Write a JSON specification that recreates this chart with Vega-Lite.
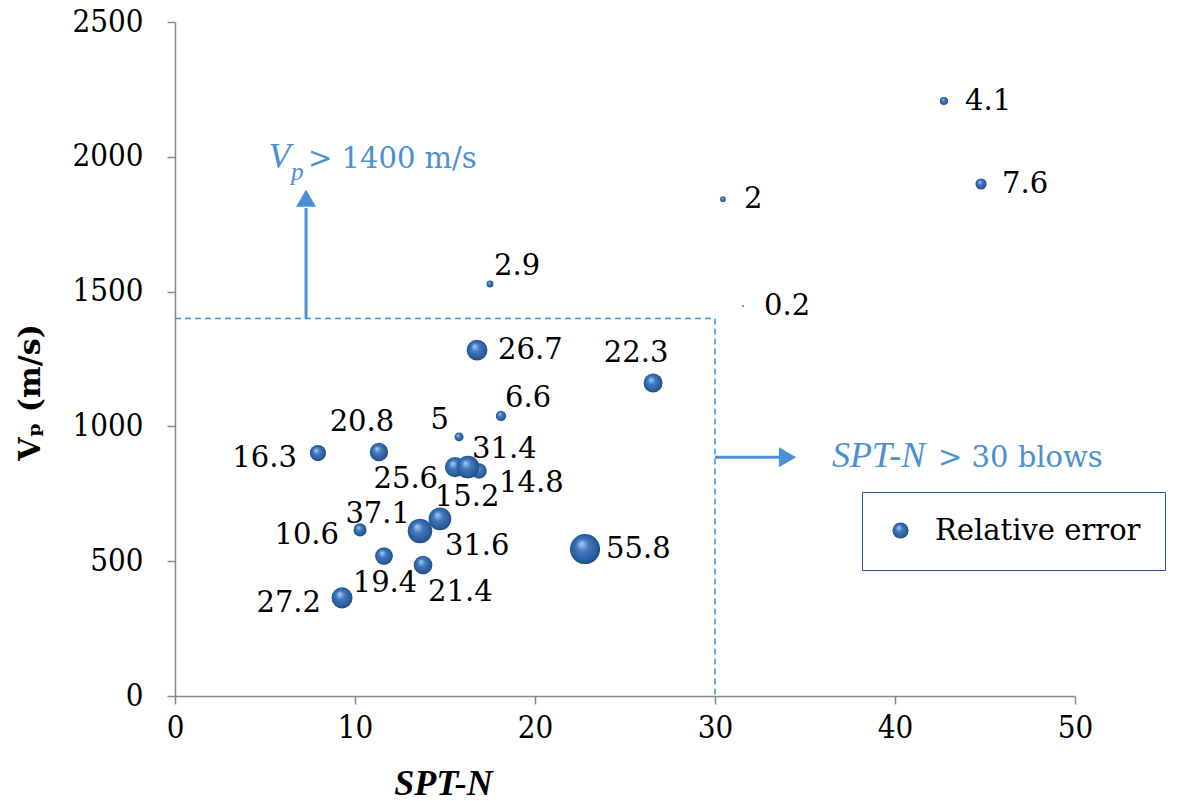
{
  "$schema": "https://vega.github.io/schema/vega-lite/v6.json",
  "width": 900,
  "height": 674,
  "autosize": {"type": "none"},
  "padding": {"left": 175, "top": 22, "right": 103, "bottom": 105},
  "background": "white",
  "datasets": {
    "bubbles": [
      {"x": 16.17, "y": 838, "err": 15.2, "pos": "below"},
      {"x": 16.89, "y": 835, "err": 14.8, "pos": "rightlow"},
      {"x": 15.56, "y": 849, "err": 25.6, "pos": "belowleft"},
      {"x": 16.28, "y": 849, "err": 31.4, "pos": "aboveright"},
      {"x": 13.61, "y": 612, "err": 37.1, "pos": "upleft"},
      {"x": 14.72, "y": 657, "err": 31.6, "pos": "belowright"},
      {"x": 42.72, "y": 2207, "err": 4.1, "pos": "right"},
      {"x": 44.78, "y": 1899, "err": 7.6, "pos": "right"},
      {"x": 30.44, "y": 1843, "err": 2, "pos": "right"},
      {"x": 31.56, "y": 1447, "err": 0.2, "pos": "right"},
      {"x": 17.5, "y": 1528, "err": 2.9, "pos": "aboveright"},
      {"x": 16.78, "y": 1283, "err": 26.7, "pos": "right"},
      {"x": 26.56, "y": 1161, "err": 22.3, "pos": "above"},
      {"x": 18.11, "y": 1039, "err": 6.6, "pos": "aboveright"},
      {"x": 15.78, "y": 961, "err": 5, "pos": "upleft"},
      {"x": 11.33, "y": 905, "err": 20.8, "pos": "above"},
      {"x": 7.94, "y": 901, "err": 16.3, "pos": "left"},
      {"x": 10.28, "y": 616, "err": 10.6, "pos": "left"},
      {"x": 11.61, "y": 519, "err": 19.4, "pos": "below"},
      {"x": 13.78, "y": 486, "err": 21.4, "pos": "belowright"},
      {"x": 9.28, "y": 364, "err": 27.2, "pos": "left"},
      {"x": 22.78, "y": 545, "err": 55.8, "pos": "right"}
    ],
    "annot": [
      {"x": 5.2, "y": 1958, "t": "V", "k": "it"},
      {"x": 6.45, "y": 1914, "t": "p", "k": "sub"},
      {"x": 7.39, "y": 1958, "t": "> 1400 m/s", "k": "norm"},
      {"x": 36.5, "y": 849, "t": "SPT-N", "k": "it"},
      {"x": 42.39, "y": 849, "t": "> 30 blows", "k": "norm"}
    ],
    "box": [
      {"x": 0, "y": 1400, "o": 1},
      {"x": 30, "y": 1400, "o": 2},
      {"x": 30, "y": 0, "o": 3}
    ],
    "shafts": [
      {"x": 7.28, "y": 1400, "x2": 7.28, "y2": 1810},
      {"x": 30, "y": 886, "x2": 33.6, "y2": 886}
    ],
    "upheads": [{"x": 7.28, "y": 1847}],
    "rightheads": [{"x": 34.03, "y": 886}]
  },
  "encoding": {
    "x": {
      "field": "x", "type": "quantitative",
      "scale": {"domain": [0, 50], "nice": false, "zero": false},
      "axis": {
        "values": [0, 10, 20, 30, 40, 50],
        "format": "d",
        "title": "SPT-N",
        "titleFont": "Liberation Serif",
        "titleFontSize": 36,
        "titleFontStyle": "italic",
        "titleFontWeight": "bold",
        "titleX": 268,
        "titleY": 87,
        "titleAlign": "center",
        "titleBaseline": "middle",
        "labelPadding": 9,
        "labelFlush": false,
        "labelFont": "DejaVu Serif Condensed, DejaVu Serif",
        "labelFontSize": 31
      }
    },
    "y": {
      "field": "y", "type": "quantitative",
      "scale": {"domain": [0, 2500], "nice": false, "zero": false},
      "axis": {
        "values": [0, 500, 1000, 1500, 2000, 2500],
        "format": "d",
        "title": "Vₚ (m/s)",
        "titleFont": "DejaVu Serif",
        "titleFontSize": 30,
        "titleFontWeight": "bold",
        "titleAngle": -90,
        "titleX": -145,
        "titleY": 370,
        "titleAlign": "center",
        "titleBaseline": "middle",
        "labelPadding": 24,
        "labelFlush": false,
        "labelFont": "DejaVu Serif Condensed, DejaVu Serif",
        "labelFontSize": 31
      }
    }
  },
  "layer": [
    {
      "data": {"name": "box"},
      "mark": {"type": "line", "color": "#3D8FDB", "strokeWidth": 1.5, "strokeDash": [6, 4]},
      "encoding": {"order": {"field": "o", "type": "quantitative"}}
    },
    {
      "data": {"name": "shafts"},
      "mark": {"type": "rule", "color": "#4A90D2", "strokeWidth": 3},
      "encoding": {"x2": {"field": "x2"}, "y2": {"field": "y2"}}
    },
    {
      "data": {"name": "upheads"},
      "mark": {"type": "point", "shape": "triangle-up", "filled": true, "color": "#4A90D2", "size": 400, "opacity": 1},
      "encoding": {}
    },
    {
      "data": {"name": "rightheads"},
      "mark": {"type": "point", "shape": "triangle-right", "filled": true, "color": "#4A90D2", "size": 400, "opacity": 1},
      "encoding": {}
    },
    {
      "data": {"name": "bubbles"},
      "mark": {
        "type": "point",
        "filled": true,
        "opacity": 1,
        "strokeWidth": 0,
        "fill": {
          "gradient": "radial",
          "x1": 0.38, "y1": 0.32, "r1": 0.02,
          "x2": 0.5, "y2": 0.5, "r2": 0.56,
          "stops": [
            {"offset": 0, "color": "#a3c8f0"},
            {"offset": 0.35, "color": "#4178bd"},
            {"offset": 0.8, "color": "#285a98"},
            {"offset": 1, "color": "#1b3e6c"}
          ]
        }
      },
      "encoding": {
        "size": {"field": "err", "type": "quantitative", "scale": {"domain": [0, 56], "range": [0, 910]}, "legend": null},
        "shape": {
          "datum": "Relative error", "type": "nominal",
          "scale": {"range": ["circle"]},
          "legend": {
            "title": null,
            "orient": "none",
            "legendX": 687,
            "legendY": 470,
            "strokeColor": "#2F5597",
            "padding": 24,
            "labelFont": "DejaVu Serif",
            "labelFontSize": 29,
            "labelColor": "#000000",
            "labelOffset": 20,
            "labelLimit": 500,
            "symbolSize": 260,
            "symbolFillColor": "#2E64A8",
            "symbolStrokeWidth": 0,
            "labelExpr": "datum.label + '    '",
            "encode": {"legend": {"update": {"strokeWidth": {"value": 2.5}}}}
          }
        }
      }
    },
    {
      "data": {"name": "bubbles"},
      "transform": [{"filter": "datum.pos === 'right'"}],
      "mark": {"type": "text", "align": "left", "baseline": "middle", "dx": 21, "dy": 0, "font": "DejaVu Serif", "fontSize": 29, "color": "#000"},
      "encoding": {"text": {"field": "err", "type": "quantitative", "format": "~g"}}
    },
    {
      "data": {"name": "bubbles"},
      "transform": [{"filter": "datum.pos === 'left'"}],
      "mark": {"type": "text", "align": "right", "baseline": "middle", "dx": -21, "dy": 5, "font": "DejaVu Serif", "fontSize": 29, "color": "#000"},
      "encoding": {"text": {"field": "err", "type": "quantitative", "format": "~g"}}
    },
    {
      "data": {"name": "bubbles"},
      "transform": [{"filter": "datum.pos === 'above'"}],
      "mark": {"type": "text", "align": "center", "baseline": "middle", "dx": -17, "dy": -30, "font": "DejaVu Serif", "fontSize": 29, "color": "#000"},
      "encoding": {"text": {"field": "err", "type": "quantitative", "format": "~g"}}
    },
    {
      "data": {"name": "bubbles"},
      "transform": [{"filter": "datum.pos === 'upleft'"}],
      "mark": {"type": "text", "align": "right", "baseline": "middle", "dx": -10, "dy": -17, "font": "DejaVu Serif", "fontSize": 29, "color": "#000"},
      "encoding": {"text": {"field": "err", "type": "quantitative", "format": "~g"}}
    },
    {
      "data": {"name": "bubbles"},
      "transform": [{"filter": "datum.pos === 'aboveright'"}],
      "mark": {"type": "text", "align": "left", "baseline": "middle", "dx": 4, "dy": -18, "font": "DejaVu Serif", "fontSize": 29, "color": "#000"},
      "encoding": {"text": {"field": "err", "type": "quantitative", "format": "~g"}}
    },
    {
      "data": {"name": "bubbles"},
      "transform": [{"filter": "datum.pos === 'belowright'"}],
      "mark": {"type": "text", "align": "left", "baseline": "middle", "dx": 5, "dy": 27, "font": "DejaVu Serif", "fontSize": 29, "color": "#000"},
      "encoding": {"text": {"field": "err", "type": "quantitative", "format": "~g"}}
    },
    {
      "data": {"name": "bubbles"},
      "transform": [{"filter": "datum.pos === 'rightlow'"}],
      "mark": {"type": "text", "align": "left", "baseline": "middle", "dx": 20, "dy": 12, "font": "DejaVu Serif", "fontSize": 29, "color": "#000"},
      "encoding": {"text": {"field": "err", "type": "quantitative", "format": "~g"}}
    },
    {
      "data": {"name": "bubbles"},
      "transform": [{"filter": "datum.pos === 'belowleft'"}],
      "mark": {"type": "text", "align": "right", "baseline": "middle", "dx": -17, "dy": 12, "font": "DejaVu Serif", "fontSize": 29, "color": "#000"},
      "encoding": {"text": {"field": "err", "type": "quantitative", "format": "~g"}}
    },
    {
      "data": {"name": "bubbles"},
      "transform": [{"filter": "datum.pos === 'below'"}],
      "mark": {"type": "text", "align": "center", "baseline": "middle", "dx": 1, "dy": 27, "font": "DejaVu Serif", "fontSize": 29, "color": "#000"},
      "encoding": {"text": {"field": "err", "type": "quantitative", "format": "~g"}}
    },
    {
      "data": {"name": "annot"},
      "transform": [{"filter": "datum.k === 'it'"}],
      "mark": {"type": "text", "align": "left", "baseline": "alphabetic", "font": "Liberation Serif", "fontSize": 36, "fontStyle": "italic", "color": "#4A90D2"},
      "encoding": {"text": {"field": "t"}}
    },
    {
      "data": {"name": "annot"},
      "transform": [{"filter": "datum.k === 'sub'"}],
      "mark": {"type": "text", "align": "left", "baseline": "alphabetic", "font": "Liberation Serif", "fontSize": 25, "fontStyle": "italic", "color": "#4A90D2"},
      "encoding": {"text": {"field": "t"}}
    },
    {
      "data": {"name": "annot"},
      "transform": [{"filter": "datum.k === 'norm'"}],
      "mark": {"type": "text", "align": "left", "baseline": "alphabetic", "font": "DejaVu Serif", "fontSize": 29, "color": "#4A90D2"},
      "encoding": {"text": {"field": "t"}}
    }
  ],
  "config": {
    "view": {"stroke": null},
    "axis": {
      "grid": false,
      "domainColor": "#898989",
      "domainWidth": 1.5,
      "tickColor": "#898989",
      "tickWidth": 1.5,
      "tickSize": 8,
      "labelColor": "#000000",
      "titleColor": "#000000"
    }
  }
}
